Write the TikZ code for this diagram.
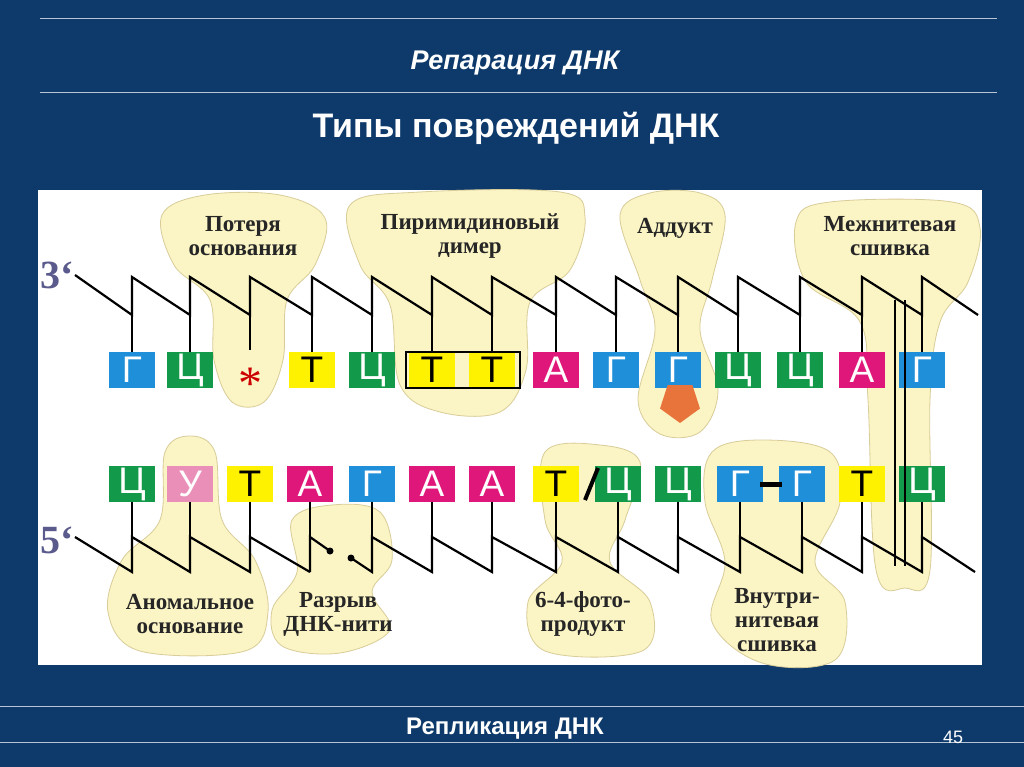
\documentclass[tikz,border=0pt]{standalone}
\usepackage{fontspec}
\setmainfont{Liberation Serif}
\newfontfamily\basefont{Liberation Sans}
\usetikzlibrary{shapes.geometric}
\definecolor{slide}{HTML}{0E3A6B}
\definecolor{blob}{HTML}{FBF4C4}
\definecolor{blobline}{HTML}{D8CC98}
\definecolor{gB}{HTML}{1E8FD8}
\definecolor{cB}{HTML}{129A4A}
\definecolor{tB}{HTML}{FFF200}
\definecolor{aB}{HTML}{E0177A}
\definecolor{uB}{HTML}{E98FB8}
\definecolor{endcol}{HTML}{5A5A8C}
\definecolor{adductcol}{HTML}{E8743B}
\tikzset{
	base/.style={minimum width=46pt,minimum height=36pt,inner sep=0pt,font=\basefont\fontsize{37}{37}\selectfont},
	blobfill/.style={fill=blob,draw=blobline,line width=0.8pt},
	damage/.style={font=\bfseries\fontsize{23}{24}\selectfont,text=black!85,align=center},
	strand/.style={line width=2.2pt,line join=miter}
}

\begin{document}
\begin{tikzpicture}[x=1pt,y=-1pt]
	\fill[slide] (0,0) rectangle (1024,767);
	\useasboundingbox (0,0) rectangle (1024,767);
	\draw[white!70!slide] (40,18) -- (997,18) (40,92) -- (997,92) (0,706) -- (1024,706) (0,742) -- (1024,742);
	\node[text=white,font=\basefont\bfseries\itshape\fontsize{27}{27}\selectfont] (title) at (515,63) {Репарация ДНК};
	\node[text=white,font=\basefont\bfseries\fontsize{34}{34}\selectfont] (subtitle) at (516,128) {Типы повреждений ДНК};
	\node[text=white,font=\basefont\bfseries\fontsize{24}{24}\selectfont] (footer) at (505,729) {Репликация ДНК};
	\node[text=white,font=\basefont\fontsize{18}{18}\selectfont] (page) at (953,737) {45};
	\fill[white] (38,190) rectangle (982,665);

	% damage zones
	\draw[blobfill] plot[smooth cycle,tension=0.6] coordinates {(162,215) (205,195) (280,195) (325,218) (315,265) (287,300) (283,360) (264,402) (232,402) (214,360) (210,300) (174,265)};
	\draw[blobfill] plot[smooth cycle,tension=0.6] coordinates {(350,205) (420,192) (560,192) (585,217) (570,270) (530,302) (526,370) (500,412) (440,412) (400,385) (390,305) (360,265)};
	\draw[blobfill] plot[smooth cycle,tension=0.6] coordinates {(620,215) (650,193) (700,193) (725,215) (712,280) (700,330) (718,390) (700,432) (660,434) (638,400) (655,330) (640,280)};
	\draw[blobfill] plot[smooth cycle,tension=0.6] coordinates {(796,222) (830,202) (952,202) (980,228) (968,282) (940,322) (930,400) (930,570) (905,588) (876,570) (868,400) (860,322) (806,282)};
	\draw[blobfill] plot[smooth cycle,tension=0.6] coordinates {(165,452) (190,436) (215,452) (222,520) (255,560) (268,612) (245,651) (140,651) (108,612) (122,560) (160,520)};
	\draw[blobfill] plot[smooth cycle,tension=0.6] coordinates {(292,520) (332,505) (380,512) (392,560) (372,592) (390,630) (340,653) (282,646) (272,610) (297,572)};
	\draw[blobfill] plot[smooth cycle,tension=0.6] coordinates {(545,452) (600,445) (640,462) (625,520) (610,562) (650,602) (642,651) (545,651) (528,602) (562,562) (545,520)};
	\draw[blobfill] plot[smooth cycle,tension=0.6] coordinates {(712,452) (762,440) (830,452) (840,502) (815,562) (845,602) (835,660) (762,663) (712,622) (725,562) (705,502)};

	\node[damage] (lossLbl) at (243,236) {Потеря\\основания};
	\node[damage] (dimerLbl) at (470,236) {Пиримидиновый\\димер};
	\node[damage] (adductLbl) at (675,228) {Аддукт};
	\node[damage] (crossLbl) at (890,236) {Межнитевая\\сшивка};
	\node[damage] (abnLbl) at (190,614) {Аномальное\\основание};
	\node[damage] (breakLbl) at (338,614) {Разрыв\\ДНК-нити};
	\node[damage] (photoLbl) at (583,614) {6-4-фото-\\продукт};
	\node[damage] (intraLbl) at (777,620) {Внутри-\\нитевая\\сшивка};

	\node[text=endcol,font=\bfseries\fontsize{40}{40}\selectfont] (end3) at (57,275) {3`};
	\node[text=endcol,font=\bfseries\fontsize{40}{40}\selectfont] (end5) at (57,540) {5`};

	% top strand
	\foreach \x [count=\i] in {132,190,250,312,372,432,492,556,616,678,738,800,862,922}
		\coordinate (tk\i) at (\x,315);
	\draw[strand] (75,275) -- (tk1)
		\foreach \i [evaluate=\i as \j using int(\i+1)] in {1,...,13} { -- ++(0,-38) -- (tk\j) }
		-- ++(0,-38) -- (978,315);
	\foreach \x/\b/\c/\f [count=\i] in {132/Г/gB/white,190/Ц/cB/white,312/Т/tB/black,372/Ц/cB/white,432/Т/tB/black,492/Т/tB/black,556/А/aB/white,616/Г/gB/white,678/Г/gB/white,738/Ц/cB/white,800/Ц/cB/white,862/А/aB/white,922/Г/gB/white}{
		\node[base,fill=\c,text=\f] (t\i) at (\x,370) {\b};
		\draw[strand] (\x,315) -- (t\i.north);
	}
	\node[text=red!80!black,font=\fontsize{48}{48}\selectfont] (lost) at (250,384) {*};
	\draw[strand] (tk3) -- (250,350);
	\draw[line width=2pt] (406,352) rectangle (520,388);
	\node[regular polygon,regular polygon sides=5,shape border rotate=180,fill=adductcol,minimum size=42pt,inner sep=0pt] (adduct) at (680,402) {};

	% bottom strand
	\foreach \x [count=\i] in {132,190,250,310,372,432,492,556,618,678,740,802,862,922}
		\coordinate (bk\i) at (\x,572);
	\foreach \x/\b/\c/\f [count=\i] in {132/Ц/cB/white,190/У/uB/white,250/Т/tB/black,310/А/aB/white,372/Г/gB/white,432/А/aB/white,492/А/aB/white,556/Т/tB/black,618/Ц/cB/white,678/Ц/cB/white,740/Г/gB/white,802/Г/gB/white,862/Т/tB/black,922/Ц/cB/white}{
		\node[base,fill=\c,text=\f] (b\i) at (\x,484) {\b};
		\draw[strand] (b\i.south) -- (bk\i);
	}
	\draw[strand] (75,537) -- (bk1)
		\foreach \i [evaluate=\i as \j using int(\i+1)] in {1,2,3} { -- ++(0,-35) -- (bk\j) };
	\draw[strand] (bk4) -- ++(0,-35) -- (330,551) coordinate (dotA);
	\draw[strand] (351,558) coordinate (dotB) -- (bk5)
		\foreach \i [evaluate=\i as \j using int(\i+1)] in {5,...,13} { -- ++(0,-35) -- (bk\j) }
		-- ++(0,-35) -- (975,572);
	\fill (dotA) circle (3.5pt) (dotB) circle (3.5pt);
	\draw[line width=4pt] (598,468) -- (585,500);
	\draw[line width=5pt] (760,484) -- (782,484);
	\draw[strand] (895,300) -- (895,566) (905,300) -- (905,566);
\end{tikzpicture}
\end{document}
